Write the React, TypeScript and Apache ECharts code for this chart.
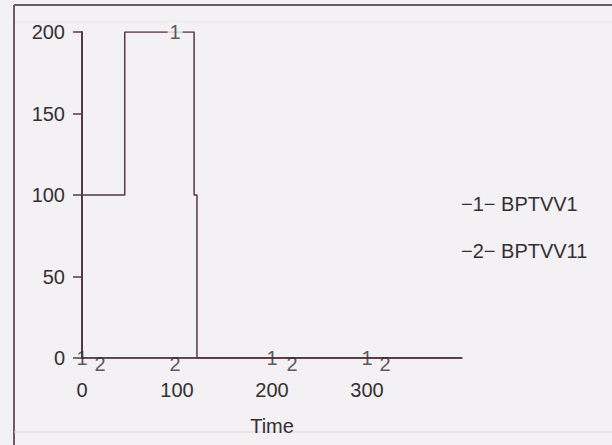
import React, { useEffect, useRef } from "react";
import * as echarts from "echarts";

// Data
const time1 = [0, 45, 118, 121, 400];
const bptvv1 = [100, 200, 100, 0, 0];
const time2 = [0, 400];
const bptvv11 = [0, 0];
// positions of the series number markers on the lines
const marker1Times = [0, 98, 200, 300];
const marker1Values = [0, 200, 0, 0];
const marker2Times = [19, 98, 221, 319];
const marker2Values = [0, 0, 0, 0];
const legendNames = ["BPTVV1", "BPTVV11"];
const xTickLabels = ["0", "100", "200", "300"];

const BG = "#f3f1f4";
const INK = "#573943";
const TEXT = "#332f32";
const FONT = "'Liberation Sans', Arial, sans-serif";

export default function App() {
  const ref = useRef<HTMLDivElement>(null);
  useEffect(() => {
    if (!ref.current) return;
    const chart = echarts.init(ref.current, undefined, { renderer: "svg" });
    const s1 = time1.map((t, i) => [t, bptvv1[i]]);
    const s2 = time2.map((t, i) => [t, bptvv11[i]]);
    const m1 = marker1Times.map((t, i) => {
      const item: any = { value: [t, marker1Values[i]] };
      if (marker1Values[i] !== 0) {
        item.label = { backgroundColor: BG, padding: [0, 2] };
      }
      return item;
    });
    const m2 = marker2Times.map((t, i) => [t, marker2Values[i]]);
    chart.setOption({
      animation: false,
      backgroundColor: BG,
      grid: { left: 82, top: 32, width: 380, height: 326, containLabel: false },
      xAxis: {
        type: "value",
        min: 0,
        max: 400,
        interval: 100,
        name: "Time",
        nameLocation: "middle",
        nameGap: 58,
        nameTextStyle: { color: TEXT, fontSize: 20, fontFamily: FONT },
        axisLine: { show: true, lineStyle: { color: INK, width: 1.5 } },
        axisTick: { show: false },
        splitLine: { show: false },
        axisLabel: {
          color: TEXT,
          fontSize: 20,
          fontFamily: FONT,
          margin: 22,
          formatter: (v: number) => {
            const s = String(v);
            return xTickLabels.indexOf(s) >= 0 ? s : "";
          },
        },
      },
      yAxis: {
        type: "value",
        min: 0,
        max: 200,
        interval: 50,
        axisLine: { show: true, lineStyle: { color: INK, width: 2 } },
        axisTick: { show: true, length: 9, lineStyle: { color: INK, width: 1.5 } },
        splitLine: { show: false },
        axisLabel: { color: TEXT, fontSize: 20, fontFamily: FONT, margin: 17 },
      },
      series: [
        {
          name: legendNames[0],
          type: "line",
          step: "end",
          data: s1,
          showSymbol: false,
          lineStyle: { color: INK, width: 1.5 },
          z: 3,
        },
        {
          name: legendNames[1],
          type: "line",
          data: s2,
          showSymbol: false,
          lineStyle: { color: INK, width: 1.5 },
          z: 2,
        },
        {
          type: "scatter",
          data: m1,
          symbolSize: 0,
          z: 5,
          label: {
            show: true,
            position: "inside",
            formatter: "1",
            color: TEXT,
            fontSize: 20,
            fontFamily: FONT,
          },
        },
        {
          type: "scatter",
          data: m2,
          symbolSize: 0,
          z: 5,
          label: {
            show: true,
            position: "inside",
            offset: [0, 6],
            formatter: "2",
            color: TEXT,
            fontSize: 20,
            fontFamily: FONT,
          },
        },
      ],
      graphic: [
        { type: "line", shape: { x1: 14, y1: 5, x2: 612, y2: 5 }, style: { stroke: "#6b5c66", lineWidth: 2 } },
        { type: "line", shape: { x1: 14, y1: 22, x2: 612, y2: 22 }, style: { stroke: "#e6e2e6", lineWidth: 1 } },
        { type: "line", shape: { x1: 14, y1: 5, x2: 14, y2: 445 }, style: { stroke: "#6b5c66", lineWidth: 2 } },
        { type: "line", shape: { x1: 14, y1: 432, x2: 612, y2: 432 }, style: { stroke: "#dedade", lineWidth: 1 } },
        {
          type: "text",
          left: 461,
          top: 194,
          style: { text: "\u22121\u2212 " + legendNames[0], fill: TEXT, fontSize: 20, fontFamily: FONT },
        },
        {
          type: "text",
          left: 461,
          top: 241,
          style: { text: "\u22122\u2212 " + legendNames[1], fill: TEXT, fontSize: 20, fontFamily: FONT },
        },
      ],
    });
    return () => chart.dispose();
  }, []);
  return (
    <div
      ref={ref}
      style={{ position: "absolute", left: 0, top: 0, width: 612, height: 445 }}
    />
  );
}
